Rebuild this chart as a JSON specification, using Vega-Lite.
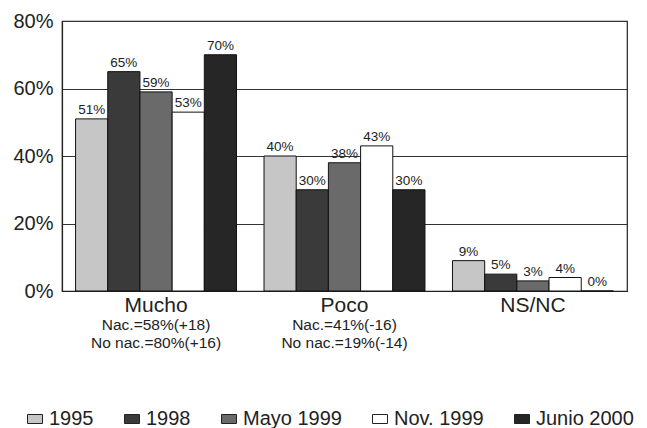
{
  "$schema": "https://vega.github.io/schema/vega-lite/v6.json",
  "autosize": "none",
  "width": 565,
  "height": 270,
  "padding": {"left": 62, "top": 21, "right": 20, "bottom": 137},
  "background": "white",
  "config": {
    "font": "Liberation Sans",
    "view": {"stroke": "#222", "strokeWidth": 1.2}
  },
  "datasets": {
    "bars": [
      {"cat": "Mucho", "serie": "1995", "value": 0.51},
      {"cat": "Mucho", "serie": "1998", "value": 0.65},
      {"cat": "Mucho", "serie": "Mayo 1999", "value": 0.59},
      {"cat": "Mucho", "serie": "Nov. 1999", "value": 0.53},
      {"cat": "Mucho", "serie": "Junio 2000", "value": 0.70},
      {"cat": "Poco", "serie": "1995", "value": 0.40},
      {"cat": "Poco", "serie": "1998", "value": 0.30},
      {"cat": "Poco", "serie": "Mayo 1999", "value": 0.38},
      {"cat": "Poco", "serie": "Nov. 1999", "value": 0.43},
      {"cat": "Poco", "serie": "Junio 2000", "value": 0.30},
      {"cat": "NS/NC", "serie": "1995", "value": 0.09},
      {"cat": "NS/NC", "serie": "1998", "value": 0.05},
      {"cat": "NS/NC", "serie": "Mayo 1999", "value": 0.03},
      {"cat": "NS/NC", "serie": "Nov. 1999", "value": 0.04},
      {"cat": "NS/NC", "serie": "Junio 2000", "value": 0.0}
    ],
    "notes": [
      {"cat": "Mucho", "note": "Nac.=58%(+18)\nNo nac.=80%(+16)"},
      {"cat": "Poco", "note": "Nac.=41%(-16)\nNo nac.=19%(-14)"}
    ]
  },
  "layer": [
    {
      "data": {"name": "bars"},
      "mark": {"type": "bar", "stroke": "#111", "strokeWidth": 1},
      "encoding": {
        "x": {
          "field": "cat", "type": "nominal", "sort": ["Mucho", "Poco", "NS/NC"],
          "scale": {"paddingInner": 0.146, "paddingOuter": 0.072},
          "axis": {"title": null, "labelAngle": 0, "labelFontSize": 21, "labelColor": "#222", "ticks": false, "domainColor": "#222", "domainWidth": 1.2, "labelPadding": 3}
        },
        "xOffset": {
          "field": "serie", "type": "nominal",
          "sort": ["1995", "1998", "Mayo 1999", "Nov. 1999", "Junio 2000"],
          "scale": {"paddingInner": 0, "paddingOuter": 0}
        },
        "y": {
          "field": "value", "type": "quantitative",
          "scale": {"domain": [0, 0.8]},
          "axis": {"title": null, "format": ".0%", "values": [0, 0.2, 0.4, 0.6, 0.8], "labelFontSize": 20, "labelColor": "#222", "tickSize": 0, "labelPadding": 9, "domainColor": "#222", "domainWidth": 1.2, "gridColor": "#333", "gridWidth": 1}
        },
        "color": {
          "field": "serie", "type": "nominal",
          "scale": {
            "domain": ["1995", "1998", "Mayo 1999", "Nov. 1999", "Junio 2000"],
            "range": ["#c6c6c6", "#3a3a3a", "#6a6a6a", "#ffffff", "#262626"]
          },
          "legend": {
            "title": null, "orient": "none", "direction": "horizontal",
            "legendX": -37, "legendY": 388,
            "symbolType": "M-1,-0.6H1V0.6H-1Z", "symbolSize": 225, "symbolStrokeColor": "#222", "symbolStrokeWidth": 1,
            "labelFontSize": 20, "labelColor": "#222", "columnPadding": 28, "labelOffset": 4
          }
        }
      }
    },
    {
      "data": {"name": "bars"},
      "mark": {"type": "text", "baseline": "bottom", "dy": -2, "fontSize": 13.5, "color": "#222"},
      "encoding": {
        "x": {"field": "cat", "type": "nominal", "sort": ["Mucho", "Poco", "NS/NC"]},
        "xOffset": {"field": "serie", "type": "nominal", "sort": ["1995", "1998", "Mayo 1999", "Nov. 1999", "Junio 2000"]},
        "y": {"field": "value", "type": "quantitative"},
        "text": {"field": "value", "type": "quantitative", "format": ".0%"}
      }
    },
    {
      "data": {"name": "notes"},
      "mark": {"type": "text", "baseline": "top", "dy": 27, "fontSize": 15.5, "lineHeight": 18, "lineBreak": "\n", "color": "#222"},
      "encoding": {
        "x": {"field": "cat", "type": "nominal", "sort": ["Mucho", "Poco", "NS/NC"]},
        "y": {"datum": 0, "type": "quantitative"},
        "text": {"field": "note", "type": "nominal"}
      }
    }
  ]
}
